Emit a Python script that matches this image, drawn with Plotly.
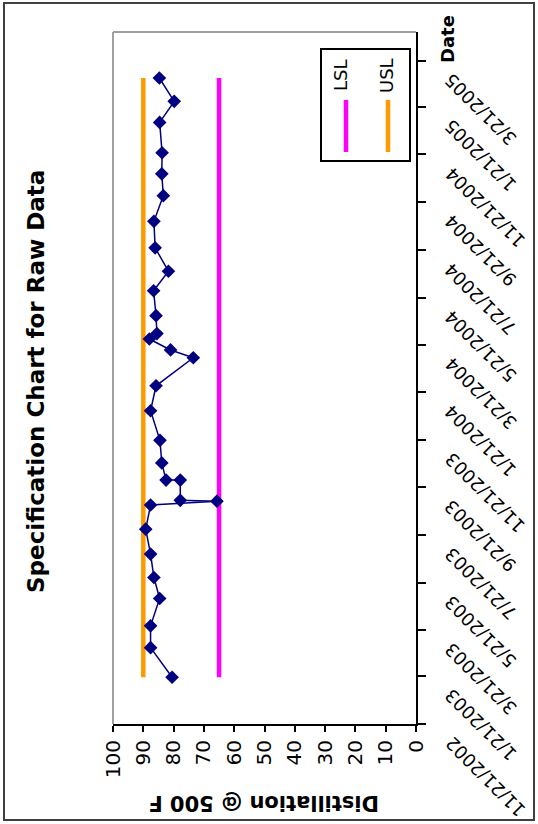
import plotly.graph_objects as go

# ---------------- data ----------------
sample_dates = ["2003-01-20", "2003-02-27", "2003-03-27", "2003-05-01", "2003-05-28",
                "2003-06-27", "2003-07-29", "2003-08-29", "2003-09-03", "2003-09-04",
                "2003-09-30", "2003-09-30", "2003-10-22", "2003-11-20", "2003-12-28",
                "2004-01-29", "2004-03-05", "2004-03-15", "2004-03-29", "2004-04-05",
                "2004-04-28", "2004-05-30", "2004-06-24", "2004-07-24", "2004-08-27",
                "2004-09-29", "2004-10-27", "2004-11-23", "2005-01-01", "2005-01-28",
                "2005-02-27"]
distillation = [80.5, 87.6, 87.6, 84.6, 86.5, 87.6, 89.2, 87.6, 65.7, 77.8,
                77.8, 82.5, 83.9, 84.5, 87.6, 85.8, 73.5, 81.0, 88.0, 85.5,
                85.8, 86.6, 81.7, 86.1, 86.5, 83.4, 83.9, 83.8, 84.6, 79.8,
                84.7]
spec_dates = ["2003-01-20", "2005-02-27"]
usl = [90, 90]
lsl = [65, 65]

date_tick_vals = ["2002-11-21", "2003-01-21", "2003-03-21", "2003-05-21", "2003-07-21",
                  "2003-09-21", "2003-11-21", "2004-01-21", "2004-03-21", "2004-05-21",
                  "2004-07-21", "2004-09-21", "2004-11-21", "2005-01-21", "2005-03-21"]
date_tick_text = ["11/21/2002", "1/21/2003", "3/21/2003", "5/21/2003", "7/21/2003",
                  "9/21/2003", "11/21/2003", "1/21/2004", "3/21/2004", "5/21/2004",
                  "7/21/2004", "9/21/2004", "11/21/2004", "1/21/2005", "3/21/2005"]
value_ticks = [0, 10, 20, 30, 40, 50, 60, 70, 80, 90, 100]
date_range = ["2002-11-21", "2005-04-27"]

# ---------------- layout helpers (pixel -> paper) ----------------
W_FIG, H_FIG = 538, 824
L, T, R, B = 113, 32, 416, 724
PW, PH = R - L, B - T


def px(x):
    return (x - L) / PW


def py(y):
    return (B - y) / PH


FONT = "DejaVu Sans"

fig = go.Figure()
fig.add_trace(go.Scatter(x=usl, y=spec_dates, mode="lines", name="USL",
                         line=dict(color="#FF9900", width=4.5), showlegend=False))
fig.add_trace(go.Scatter(x=lsl, y=spec_dates, mode="lines", name="LSL",
                         line=dict(color="#FF00FF", width=4.5), showlegend=False))
fig.add_trace(go.Scatter(x=distillation, y=sample_dates, mode="lines+markers",
                         name="Distillation",
                         line=dict(color="#000080", width=1.5),
                         marker=dict(symbol="diamond", size=10.5, color="#000080"),
                         showlegend=False))

shapes = [
    # outer border
    dict(type="rect", xref="paper", yref="paper", x0=px(4), x1=px(534), y0=py(820), y1=py(3),
         line=dict(color="#404040", width=2), layer="below"),
    # plot-area gray border (left and top)
    dict(type="line", xref="paper", yref="paper", x0=0, x1=0, y0=0, y1=1,
         line=dict(color="#A0A0A0", width=2)),
    dict(type="line", xref="paper", yref="paper", x0=0, x1=1, y0=1, y1=1,
         line=dict(color="#A0A0A0", width=2)),
    # legend box
    dict(type="rect", xref="paper", yref="paper", x0=px(321), x1=px(410), y0=py(161), y1=py(49),
         line=dict(color="black", width=2), fillcolor="white"),
    dict(type="line", xref="paper", yref="paper", x0=px(346), x1=px(346), y0=py(152), y1=py(100),
         line=dict(color="#FF00FF", width=4.5)),
    dict(type="line", xref="paper", yref="paper", x0=px(388), x1=px(388), y0=py(152), y1=py(100),
         line=dict(color="#FF9900", width=4.5)),
]

annotations = [
    dict(text="<b>Specification Chart for Raw Data</b>", xref="paper", yref="paper",
         x=px(36), y=py(382), xanchor="center", yanchor="middle", textangle=-90,
         showarrow=False, font=dict(family=FONT, size=23, color="black")),
    dict(text="<b>Distillation @ 500 F</b>", xref="paper", yref="paper",
         x=px(264), y=py(803), xanchor="center", yanchor="middle", textangle=180,
         showarrow=False, font=dict(family=FONT, size=21, color="black")),
    dict(text="<b>Date</b>", xref="paper", yref="paper",
         x=px(447), y=py(39), xanchor="center", yanchor="middle", textangle=-90,
         showarrow=False, font=dict(family=FONT, size=18, color="black")),
    dict(text="LSL", xref="paper", yref="paper", x=px(340), y=py(76),
         xanchor="center", yanchor="middle", textangle=-90, showarrow=False,
         font=dict(family=FONT, size=18, color="black")),
    dict(text="USL", xref="paper", yref="paper", x=px(386), y=py(76),
         xanchor="center", yanchor="middle", textangle=-90, showarrow=False,
         font=dict(family=FONT, size=18, color="black")),
]
for d, t in zip(date_tick_vals, date_tick_text):
    annotations.append(dict(text=t, xref="paper", yref="y", x=1, y=d,
                            xanchor="left", yanchor="top", xshift=22, yshift=-6,
                            textangle=-135, showarrow=False,
                            font=dict(family=FONT, size=18, color="black")))

fig.update_layout(
    width=W_FIG, height=H_FIG,
    margin=dict(l=L, r=W_FIG - R, t=T, b=H_FIG - B, pad=0),
    paper_bgcolor="white", plot_bgcolor="white",
    showlegend=False,
    shapes=shapes, annotations=annotations,
    xaxis=dict(range=[100, 0], tickvals=value_ticks, tickangle=-90,
               ticks="outside", ticklen=6, tickwidth=1.5, tickcolor="black",
               showline=True, linecolor="black", linewidth=2,
               showgrid=False, zeroline=False,
               tickfont=dict(family=FONT, size=20, color="black")),
    yaxis=dict(type="date", range=date_range, side="right",
               tickvals=date_tick_vals, showticklabels=False,
               ticks="outside", ticklen=8, tickwidth=1.5, tickcolor="black",
               showline=True, linecolor="black", linewidth=2,
               showgrid=False, zeroline=False),
)

fig.write_html("out.html",
               config={"displayModeBar": False},
               post_script="document.body.style.margin='0';"
                           "document.body.style.overflow='hidden';")
